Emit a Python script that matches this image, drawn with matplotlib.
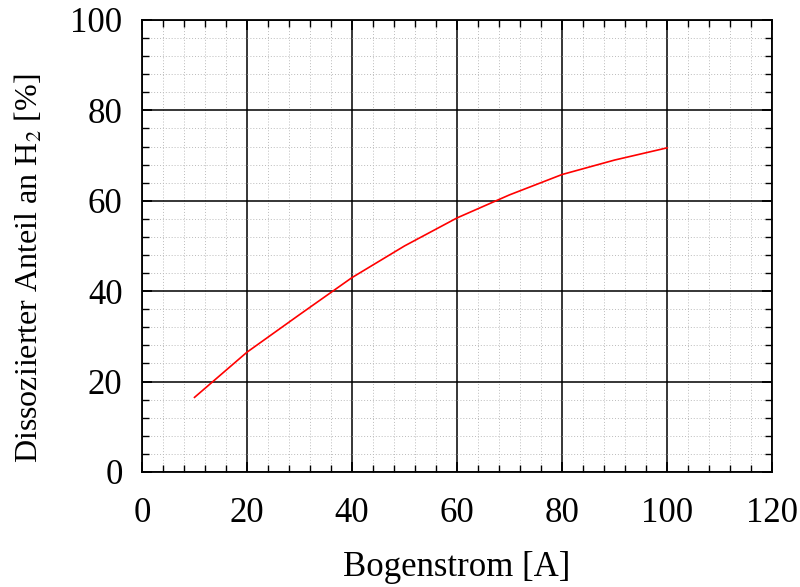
import matplotlib
matplotlib.use('Agg')
import matplotlib.pyplot as pyplot
from matplotlib.ticker import MultipleLocator

strom = [10, 20, 30, 40, 50, 60, 70, 80, 90, 100]
anteil = [16.5, 26.5, 34.8, 43.0, 50.0, 56.2, 61.3, 65.8, 69.0, 71.7]

pyplot.rcParams['font.family'] = ['Liberation Serif', 'DejaVu Serif']
pyplot.rcParams['mathtext.fontset'] = 'stix'

figure = pyplot.figure(figsize=(8, 5.87), dpi=100)
axes = figure.add_axes([0.1775, 0.196, 0.7875, 0.77])

axes.plot(strom, anteil, color='red', linewidth=1.2, zorder=3)

axes.set_xlim(0, 120)
axes.set_ylim(0, 100)
axes.xaxis.set_major_locator(MultipleLocator(20))
axes.xaxis.set_minor_locator(MultipleLocator(4))
axes.yaxis.set_major_locator(MultipleLocator(20))
axes.yaxis.set_minor_locator(MultipleLocator(4))

axes.grid(which='major', color='black', linestyle='-', linewidth=1.1)
axes.grid(which='minor', color='#bbbbbb', linestyle=(0, (1, 2)), linewidth=0.7)
axes.set_axisbelow(True)

axes.tick_params(which='both', direction='in', top=True, right=True, labelsize=25, colors='black')
axes.tick_params(which='major', length=7, width=1.3)
axes.tick_params(axis='x', which='major', pad=18)
axes.tick_params(axis='y', which='major', pad=14)
axes.tick_params(which='minor', length=5, width=1.0)
for spine in axes.spines.values():
    spine.set_linewidth(1.3)

axes.set_xlabel('Bogenstrom [A]', fontsize=25)
axes.set_ylabel('Dissoziierter Anteil an H$_2$ [%]', fontsize=23)
axes.xaxis.set_label_coords(0.5, -0.175)
axes.yaxis.set_label_coords(-0.155, 0.45)

pyplot.savefig('out.png', dpi=100)
pyplot.close(figure)
